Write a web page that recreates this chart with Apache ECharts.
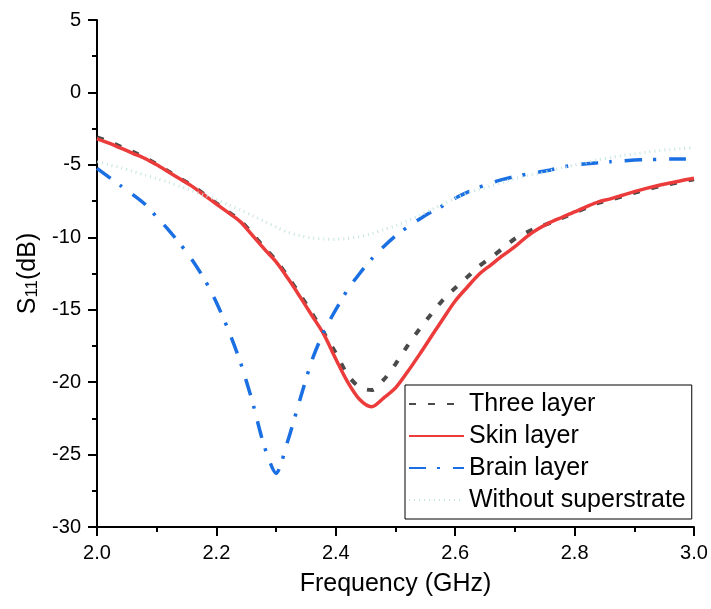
<!DOCTYPE html>
<html>
<head>
<meta charset="utf-8">
<script src="https://cdn.jsdelivr.net/npm/echarts@6/dist/echarts.min.js"></script>
<style>
  html, body { margin: 0; padding: 0; background: #fff; }
  #chart { width: 711px; height: 609px; }
</style>
</head>
<body>
<div id="chart"></div>
<script>
// Frequency sweep (GHz)
const freq = [
  2.00, 2.02, 2.04, 2.06, 2.08, 2.10, 2.12, 2.14, 2.16, 2.18,
  2.20, 2.22, 2.24, 2.26, 2.28, 2.30, 2.32, 2.34, 2.36, 2.38,
  2.40, 2.42, 2.44, 2.46, 2.48, 2.50, 2.52, 2.54, 2.56, 2.58,
  2.60, 2.62, 2.64, 2.66, 2.68, 2.70, 2.72, 2.74, 2.76, 2.78,
  2.80, 2.82, 2.84, 2.86, 2.88, 2.90, 2.92, 2.94, 2.96, 2.98, 3.00
];

// S11 (dB) for each superstrate configuration
const threeLayer = [
  -3.1, -3.4, -3.75, -4.1, -4.5, -4.95, -5.45, -5.95, -6.45, -7.05,
  -7.65, -8.25, -8.85, -9.75, -10.7, -11.6, -12.75, -13.95, -15.25, -16.6,
  -18.0, -19.5, -20.35, -20.55, -19.85, -18.75, -17.5, -16.35, -15.3, -14.3,
  -13.5, -12.75, -12.0, -11.4, -10.75, -10.1, -9.65, -9.3, -9.0, -8.65,
  -8.3, -7.95, -7.62, -7.4, -7.17, -6.93, -6.7, -6.5, -6.33, -6.16, -6.0
];
const skinLayer = [
  -3.2, -3.5, -3.85, -4.2, -4.55, -5.0, -5.5, -6.0, -6.5, -7.1,
  -7.7, -8.3, -8.92, -9.85, -10.8, -11.7, -12.85, -14.1, -15.4, -16.7,
  -18.4, -20.0, -21.2, -21.7, -21.1, -20.4, -19.3, -18.1, -16.85, -15.6,
  -14.4, -13.45, -12.55, -11.9, -11.25, -10.65, -9.95, -9.4, -8.95, -8.6,
  -8.25, -7.88, -7.55, -7.35, -7.1, -6.85, -6.62, -6.42, -6.25, -6.08, -5.93
];
const brainLayer = [
  -5.24, -5.85, -6.45, -7.05, -7.7, -8.6, -9.5, -10.5, -11.6, -12.9,
  -14.5, -16.4, -18.6, -21.3, -24.4, -26.3, -24.0, -21.2, -18.5, -16.5,
  -15.0, -13.6, -12.5, -11.5, -10.65, -9.9, -9.3, -8.75, -8.25, -7.8,
  -7.3, -6.9, -6.55, -6.25, -6.0, -5.8, -5.65, -5.5, -5.35, -5.15,
  -5.0, -4.92, -4.85, -4.78, -4.72, -4.67, -4.64, -4.62, -4.6, -4.6, -4.6
];
const withoutSuperstrate = [
  -4.8, -5.0, -5.2, -5.45, -5.7, -5.95, -6.2, -6.5, -6.8, -7.1,
  -7.4, -7.75, -8.1, -8.5, -8.9, -9.3, -9.65, -9.9, -10.05, -10.12,
  -10.13, -10.08, -9.95, -9.75, -9.48, -9.2, -8.85, -8.5, -8.1, -7.7,
  -7.3, -6.95, -6.7, -6.45, -6.2, -5.95, -5.75, -5.6, -5.4, -5.2,
  -5.0, -4.85, -4.65, -4.5, -4.35, -4.25, -4.12, -4.02, -3.95, -3.88, -3.82
];

const seriesNames = ['Three layer', 'Skin layer', 'Brain layer', 'Without superstrate'];
const xTicks = { min: 2.0, max: 3.0, step: 0.2 };
const yTicks = { min: -30, max: 5, step: 5 };

const FONT = "'Liberation Sans', Arial, sans-serif";

function pairs(values) {
  return freq.map((f, i) => [f, values[i]]);
}

const chart = echarts.init(document.getElementById('chart'), null, { renderer: 'canvas' });

const axisCommon = {
  axisLine: { show: true, onZero: false, lineStyle: { color: '#000', width: 2 } },
  axisTick: { show: true, inside: false, length: 9, lineStyle: { color: '#000', width: 2 } },
  minorTick: { show: true, splitNumber: 2, length: 5, lineStyle: { color: '#000', width: 2 } },
  splitLine: { show: false },
  axisLabel: { color: '#000', fontSize: 20, fontFamily: FONT, margin: 16 }
};

chart.setOption({
  animation: false,
  backgroundColor: '#fff',
  grid: { left: 97, right: 17, top: 20, bottom: 82, containLabel: false },
  xAxis: Object.assign({}, axisCommon, {
    type: 'value',
    min: xTicks.min, max: xTicks.max, interval: xTicks.step,
    name: 'Frequency (GHz)',
    nameLocation: 'middle',
    nameGap: 45,
    nameTextStyle: { color: '#000', fontSize: 25, fontFamily: FONT },
    axisLabel: Object.assign({}, axisCommon.axisLabel, {
      formatter: v => v.toFixed(1)
    })
  }),
  yAxis: Object.assign({}, axisCommon, {
    type: 'value',
    min: yTicks.min, max: yTicks.max, interval: yTicks.step,
    name: 'S{sub|11}(dB)',
    nameLocation: 'middle',
    nameGap: 54,
    nameRotate: 90,
    nameTextStyle: {
      color: '#000', fontSize: 25, fontFamily: FONT,
      rich: {
        sub: { fontSize: 17, fontFamily: FONT, color: '#000', verticalAlign: 'bottom', padding: [9, 0, 0, 0] }
      }
    }
  }),
  legend: {
    data: seriesNames,
    orient: 'vertical',
    left: 405,
    top: 385,
    padding: [6, 6, 6, 3],
    itemWidth: 55,
    itemHeight: 14,
    itemGap: 6,
    itemTextGap: 10,
    borderColor: '#000',
    borderWidth: 1,
    backgroundColor: '#fff',
    itemStyle: { opacity: 0 },
    textStyle: { color: '#000', fontSize: 25, fontFamily: FONT, lineHeight: 26 }
  },
  series: [
    {
      name: seriesNames[0], type: 'line', data: pairs(threeLayer),
      smooth: 0.3, symbol: 'none', z: 2,
      lineStyle: { color: '#4a4a4a', width: 4, type: [7, 12] },
      itemStyle: { color: '#4a4a4a' }
    },
    {
      name: seriesNames[1], type: 'line', data: pairs(skinLayer),
      smooth: 0.3, symbol: 'none', z: 3,
      lineStyle: { color: '#ec3b3b', width: 3.5, type: 'solid' },
      itemStyle: { color: '#ec3b3b' }
    },
    {
      name: seriesNames[2], type: 'line', data: pairs(brainLayer),
      smooth: 0.25, symbol: 'none', z: 4,
      lineStyle: { color: '#1a6fe3', width: 3.5, type: [17, 11, 3, 13] },
      itemStyle: { color: '#1a6fe3' }
    },
    {
      name: seriesNames[3], type: 'line', data: pairs(withoutSuperstrate),
      smooth: 0.3, symbol: 'none', z: 5,
      lineStyle: { color: '#c4e4e2', width: 3, type: [1, 4] },
      itemStyle: { color: '#c4e4e2' }
    }
  ]
});
</script>
</body>
</html>
